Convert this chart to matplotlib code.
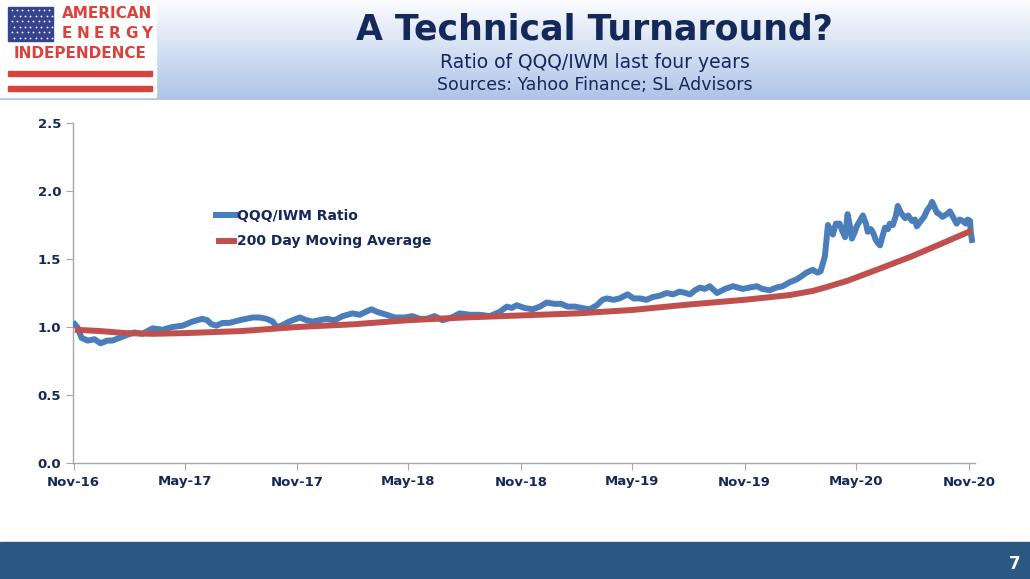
import numpy as np
import pandas as pd
import matplotlib
matplotlib.use("Agg")
import matplotlib.pyplot as plt
from matplotlib.patches import Rectangle
from matplotlib.colors import LinearSegmentedColormap

# --- data ---
ratio_dates = [
    "2016-11-03", "2016-11-07", "2016-11-14", "2016-11-24", "2016-12-05", "2016-12-15", "2016-12-26",
    "2017-01-03", "2017-01-15", "2017-01-26", "2017-02-08", "2017-02-21", "2017-03-10", "2017-03-26",
    "2017-04-11", "2017-04-28", "2017-05-14", "2017-05-30", "2017-06-07", "2017-06-14", "2017-06-22",
    "2017-07-02", "2017-07-13", "2017-07-30", "2017-08-20", "2017-08-31", "2017-09-12", "2017-09-22",
    "2017-09-28", "2017-10-06", "2017-10-19", "2017-11-05", "2017-11-16", "2017-11-26", "2017-12-07",
    "2017-12-19", "2018-01-01", "2018-01-14", "2018-01-30", "2018-02-11", "2018-02-20", "2018-03-02",
    "2018-03-12", "2018-03-27", "2018-04-09", "2018-04-25", "2018-05-08", "2018-05-20", "2018-05-31",
    "2018-06-13", "2018-06-26", "2018-07-11", "2018-07-24", "2018-08-09", "2018-08-26", "2018-09-11",
    "2018-09-27", "2018-10-09", "2018-10-17", "2018-10-25", "2018-11-07", "2018-11-20", "2018-12-02",
    "2018-12-13", "2018-12-26", "2019-01-06", "2019-01-16", "2019-01-28", "2019-02-08", "2019-02-21",
    "2019-03-05", "2019-03-14", "2019-03-21", "2019-04-01", "2019-04-11", "2019-04-24", "2019-05-04",
    "2019-05-14", "2019-05-25", "2019-06-04", "2019-06-15", "2019-06-27", "2019-07-07", "2019-07-18",
    "2019-07-28", "2019-08-04", "2019-08-12", "2019-08-20", "2019-08-28", "2019-09-05", "2019-09-17",
    "2019-09-30", "2019-10-13", "2019-10-21", "2019-10-29", "2019-11-09", "2019-11-21", "2019-11-30",
    "2019-12-12", "2019-12-23", "2020-01-02", "2020-01-14", "2020-01-25", "2020-02-04", "2020-02-10",
    "2020-02-20", "2020-02-28", "2020-03-04", "2020-03-11", "2020-03-16", "2020-03-21", "2020-03-24",
    "2020-03-29", "2020-04-04", "2020-04-09", "2020-04-13", "2020-04-17", "2020-04-21", "2020-04-24",
    "2020-04-29", "2020-05-02", "2020-05-07", "2020-05-12", "2020-05-17", "2020-05-20", "2020-05-25",
    "2020-05-29", "2020-06-02", "2020-06-05", "2020-06-09", "2020-06-12", "2020-06-17", "2020-06-22",
    "2020-06-25", "2020-06-30", "2020-07-05", "2020-07-08", "2020-07-13", "2020-07-20", "2020-07-25",
    "2020-07-31", "2020-08-05", "2020-08-08", "2020-08-13", "2020-08-20", "2020-08-25", "2020-08-30",
    "2020-09-02", "2020-09-06", "2020-09-10", "2020-09-14", "2020-09-19", "2020-09-26", "2020-10-01",
    "2020-10-06", "2020-10-12", "2020-10-17", "2020-10-22", "2020-10-27", "2020-10-30", "2020-11-03",
    "2020-11-04", "2020-11-06",
]
ratio_values = [
    1.02, 1.00, 0.92, 0.90, 0.91, 0.88, 0.90,
    0.90, 0.92, 0.94, 0.96, 0.95, 0.99, 0.98,
    1.00, 1.01, 1.04, 1.06, 1.05, 1.02, 1.01,
    1.03, 1.03, 1.05, 1.07, 1.07, 1.06, 1.04,
    1.00, 1.01, 1.04, 1.07, 1.05, 1.04, 1.05,
    1.06, 1.05, 1.08, 1.10, 1.09, 1.11, 1.13,
    1.11, 1.09, 1.07, 1.07, 1.08, 1.06, 1.06,
    1.08, 1.05, 1.07, 1.10, 1.09, 1.09, 1.08,
    1.11, 1.15, 1.14, 1.16, 1.14, 1.13, 1.15,
    1.18, 1.17, 1.17, 1.15, 1.15, 1.14, 1.13,
    1.16, 1.20, 1.21, 1.20, 1.21, 1.24, 1.21,
    1.21, 1.20, 1.22, 1.23, 1.25, 1.24, 1.26,
    1.25, 1.24, 1.27, 1.29, 1.28, 1.30, 1.25,
    1.28, 1.30, 1.29, 1.28, 1.29, 1.30, 1.28,
    1.27, 1.29, 1.30, 1.33, 1.35, 1.38, 1.40,
    1.42, 1.40, 1.41, 1.52, 1.75, 1.70, 1.68,
    1.76, 1.76, 1.70, 1.66, 1.83, 1.74, 1.65,
    1.70, 1.74, 1.78, 1.82, 1.76, 1.70, 1.72,
    1.69, 1.64, 1.62, 1.60, 1.65, 1.73, 1.72,
    1.76, 1.75, 1.82, 1.89, 1.84, 1.80, 1.82,
    1.78, 1.79, 1.74, 1.77, 1.81, 1.86, 1.89,
    1.92, 1.88, 1.84, 1.83, 1.81, 1.83, 1.85,
    1.81, 1.76, 1.79, 1.78, 1.76, 1.79, 1.78,
    1.70, 1.64,
]

ma_dates = [
    "2016-11-03", "2016-12-15", "2017-01-25", "2017-03-10", "2017-05-01", "2017-08-01",
    "2017-11-01", "2018-02-01", "2018-05-01", "2018-08-01", "2018-11-01", "2019-02-01",
    "2019-05-01", "2019-08-01", "2019-11-01", "2020-01-14", "2020-02-20", "2020-03-11",
    "2020-04-17", "2020-06-09", "2020-07-31", "2020-09-26", "2020-11-06",
]
ma_values = [
    0.98, 0.97, 0.955, 0.95, 0.955, 0.97,
    1.00, 1.02, 1.05, 1.07, 1.085, 1.10,
    1.125, 1.165, 1.20, 1.235, 1.265, 1.29,
    1.34, 1.43, 1.52, 1.63, 1.71,
]

tick_dates = ["2016-11-01", "2017-05-01", "2017-11-01", "2018-05-01", "2018-11-01",
              "2019-05-01", "2019-11-01", "2020-05-01", "2020-11-01"]
tick_labels = ["Nov-16", "May-17", "Nov-17", "May-18", "Nov-18",
               "May-19", "Nov-19", "May-20", "Nov-20"]
y_ticks = [0.0, 0.5, 1.0, 1.5, 2.0, 2.5]

NAVY = "#14285a"
BLUE = "#4a7ebb"
RED = "#c0504d"
LOGO_RED = "#d9433b"

W, H = 1030, 579
fig = plt.figure(figsize=(W / 100, H / 100), dpi=100)

# header gradient band
hdr = fig.add_axes([0, 1 - 100 / H, 1, 100 / H])
grad = np.linspace(0, 1, 100).reshape(-1, 1)
cmap = LinearSegmentedColormap.from_list("hdr", ["#fbfcfe", "#adc4e8"])
hdr.imshow(grad, aspect="auto", cmap=cmap, extent=[0, W, 100, 0])
hdr.set_xlim(0, W)
hdr.set_ylim(100, 0)
hdr.axis("off")

# logo
hdr.add_patch(Rectangle((0, 0), 156, 97, color="white", zorder=2))
hdr.add_patch(Rectangle((8, 7), 45, 34, color="#34448f", zorder=3))
for r in range(6):
    for c in range(8):
        hdr.plot(11.5 + c * 5.4 + (r % 2) * 2.7, 10 + r * 5.5, "o", ms=1.3,
                 color="white", mec="none", zorder=4)
hdr.text(107, 14, "AMERICAN", color=LOGO_RED, fontsize=11, fontweight="bold",
         ha="center", va="center", zorder=5)
for i, ch in enumerate("ENERGY"):
    hdr.text(67 + i * 16.0, 34, ch, color=LOGO_RED, fontsize=11, fontweight="bold",
             ha="center", va="center", zorder=5)
hdr.text(80, 54, "INDEPENDENCE", color=LOGO_RED, fontsize=11, fontweight="bold",
         ha="center", va="center", zorder=5)
hdr.add_patch(Rectangle((8, 71), 144, 5, color=LOGO_RED, zorder=3))
hdr.add_patch(Rectangle((8, 86), 144, 5, color=LOGO_RED, zorder=3))

# titles
hdr.text(594, 29, "A Technical Turnaround?", color=NAVY, fontsize=25, fontweight="bold",
         ha="center", va="center", zorder=5)
hdr.text(595, 62, "Ratio of QQQ/IWM last four years", color=NAVY, fontsize=13.5,
         ha="center", va="center", zorder=5)
hdr.text(595, 85, "Sources: Yahoo Finance; SL Advisors", color=NAVY, fontsize=12.5,
         ha="center", va="center", zorder=5)

# footer band
fig.patches.append(Rectangle((0, 0), 1, 37 / H, transform=fig.transFigure,
                             color="#2b5783", zorder=0))
fig.text(1015 / W, 1 - 564 / H, "7", color="white", fontsize=12, fontweight="bold",
         ha="center", va="center")

# main chart
ax = fig.add_axes([73 / W, 1 - 463 / H, (975 - 73) / W, (463 - 123) / H])
x_ratio = pd.to_datetime(ratio_dates)
x_ma = pd.to_datetime(ma_dates)
ax.plot(x_ratio, ratio_values, color=BLUE, lw=4.3, solid_joinstyle="round",
        label="QQQ/IWM Ratio", zorder=3)
ax.plot(x_ma, ma_values, color=RED, lw=4.3, solid_capstyle="butt",
        label="200 Day Moving Average", zorder=4)

ax.set_ylim(0, 2.5)
ax.set_xlim(pd.Timestamp("2016-10-31"), pd.Timestamp("2020-11-11"))
ax.set_yticks(y_ticks)
ax.set_yticklabels([f"{v:.1f}" for v in y_ticks])
ax.set_xticks(pd.to_datetime(tick_dates))
ax.set_xticklabels(tick_labels)
for s in ["top", "right"]:
    ax.spines[s].set_visible(False)
for s in ["left", "bottom"]:
    ax.spines[s].set_color("#a6a6a6")
    ax.spines[s].set_linewidth(1.0)
ax.tick_params(axis="both", direction="out", length=5, color="#a6a6a6",
               labelcolor=NAVY, labelsize=9.5)
ax.tick_params(axis="x", pad=4)
for lbl in ax.get_xticklabels() + ax.get_yticklabels():
    lbl.set_fontweight("bold")

leg = ax.legend(loc="upper left", bbox_to_anchor=(0.145, 0.785), frameon=False,
                handlelength=1.5, handletextpad=0.0, labelspacing=0.85,
                prop={"weight": "bold", "size": 10})
for t in leg.get_texts():
    t.set_color(NAVY)

fig.savefig("out.png", dpi=100)
